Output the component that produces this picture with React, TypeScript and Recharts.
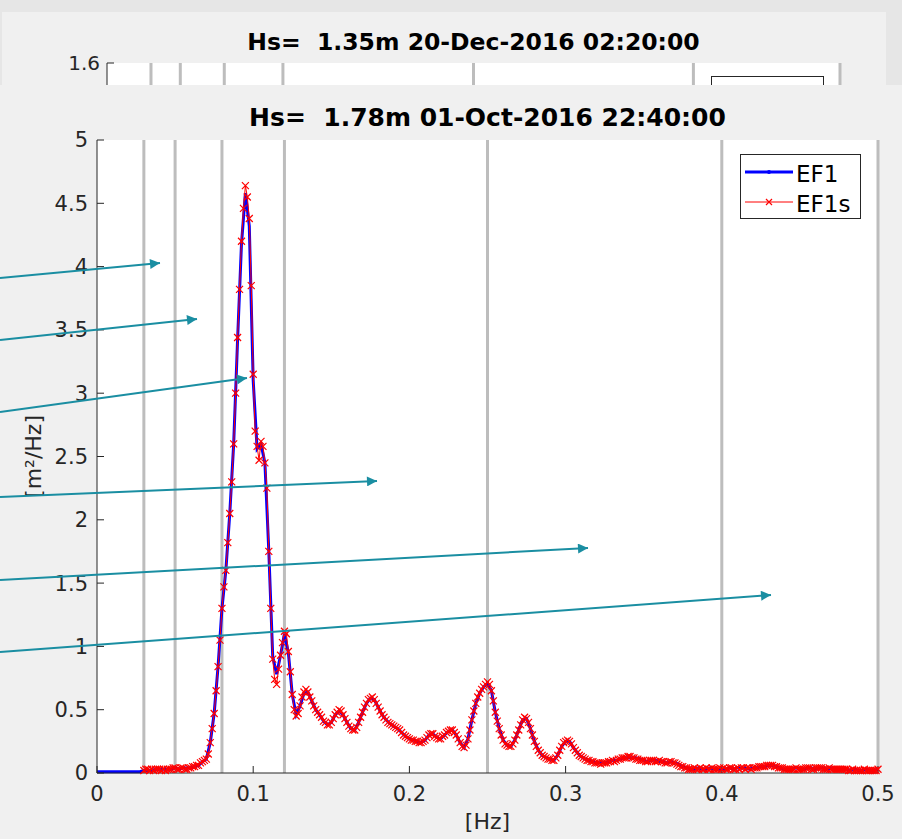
import React from "react";
import {
  LineChart,
  Line,
  XAxis,
  YAxis,
  ReferenceLine,
  CartesianGrid,
  Legend,
} from "recharts";

// spectral bin widths [Hz]: EF1 is stored on a grid twice as coarse as EF1s
const EF1_STEP = 0.0025;
const EF1S_STEP = 0.00125;

// EF1 energy density [m²/Hz], 0 to 0.5 Hz
const EF1: number[] = [
  0.01, 0.01, 0.01, 0.01, 0.01, 0.01, 0.01, 0.01, 0.01, 0.01,
  0.01, 0.01, 0.02, 0.02, 0.02, 0.03, 0.03, 0.03, 0.03, 0.03,
  0.04, 0.03, 0.04, 0.04, 0.04, 0.05, 0.06, 0.09, 0.11, 0.24,
  0.47, 0.84, 1.3, 1.6, 2.05, 2.6, 3.42, 4.18, 4.58, 4.32,
  3.1, 2.56, 2.6, 2.45, 1.75, 0.92, 0.78, 0.93, 1.1, 0.95,
  0.62, 0.46, 0.53, 0.63, 0.64, 0.57, 0.5, 0.46, 0.41, 0.38,
  0.4, 0.46, 0.49, 0.46, 0.4, 0.35, 0.34, 0.4, 0.48, 0.55,
  0.59, 0.58, 0.52, 0.46, 0.42, 0.39, 0.37, 0.35, 0.32, 0.29,
  0.27, 0.26, 0.25, 0.24, 0.26, 0.3, 0.31, 0.28, 0.27, 0.3,
  0.33, 0.34, 0.3, 0.24, 0.2, 0.27, 0.42, 0.55, 0.63, 0.68,
  0.71, 0.65, 0.48, 0.35, 0.26, 0.22, 0.21, 0.26, 0.34, 0.42,
  0.43, 0.35, 0.25, 0.18, 0.14, 0.12, 0.11, 0.1, 0.14, 0.21,
  0.25, 0.25, 0.2, 0.16, 0.13, 0.11, 0.1, 0.09, 0.08, 0.08,
  0.08, 0.09, 0.1, 0.1, 0.11, 0.12, 0.12, 0.12, 0.12, 0.11,
  0.1, 0.09, 0.1, 0.1, 0.09, 0.09, 0.08, 0.09, 0.08, 0.07,
  0.05, 0.04, 0.03, 0.03, 0.04, 0.03, 0.03, 0.04, 0.03, 0.03,
  0.03, 0.03, 0.04, 0.03, 0.04, 0.04, 0.04, 0.03, 0.04, 0.04,
  0.05, 0.05, 0.06, 0.06, 0.05, 0.04, 0.03, 0.03, 0.03, 0.04,
  0.03, 0.03, 0.04, 0.04, 0.03, 0.04, 0.04, 0.03, 0.04, 0.03,
  0.03, 0.03, 0.03, 0.02, 0.03, 0.02, 0.02, 0.03, 0.02, 0.02,
  0.03,
];

// EF1s smoothed estimate [m²/Hz], 0 to 0.5 Hz, only defined from 0.03 Hz
const EF1S: (number | null)[] = [
  null, null, null, null, null, null, null, null, null, null,
  null, null, null, null, null, null, null, null, null, null,
  null, null, null, null, 0.02, 0.03, 0.03, 0.02, 0.03, 0.02,
  0.03, 0.03, 0.03, 0.02, 0.03, 0.02, 0.03, 0.03, 0.03, 0.04,
  0.04, 0.03, 0.03, 0.04, 0.04, 0.03, 0.03, 0.04, 0.04, 0.05,
  0.05, 0.06, 0.06, 0.08, 0.09, 0.1, 0.11, 0.15, 0.24, 0.35,
  0.47, 0.65, 0.84, 1.05, 1.3, 1.47, 1.6, 1.82, 2.05, 2.3,
  2.6, 3.0, 3.44, 3.82, 4.2, 4.46, 4.64, 4.55, 4.38, 3.85,
  3.15, 2.7, 2.58, 2.47, 2.62, 2.58, 2.45, 2.25, 1.75, 1.3,
  0.9, 0.74, 0.7, 0.82, 0.93, 1.03, 1.12, 1.1, 0.96, 0.8,
  0.62, 0.5, 0.45, 0.47, 0.53, 0.6, 0.64, 0.66, 0.64, 0.6,
  0.57, 0.53, 0.5, 0.48, 0.46, 0.44, 0.41, 0.4, 0.38, 0.38,
  0.4, 0.43, 0.46, 0.48, 0.5, 0.49, 0.46, 0.43, 0.4, 0.37,
  0.35, 0.34, 0.34, 0.36, 0.4, 0.44, 0.48, 0.52, 0.55, 0.58,
  0.59, 0.6, 0.58, 0.55, 0.52, 0.49, 0.46, 0.44, 0.42, 0.4,
  0.39, 0.38, 0.37, 0.36, 0.35, 0.34, 0.32, 0.3, 0.29, 0.28,
  0.27, 0.26, 0.26, 0.25, 0.25, 0.24, 0.24, 0.25, 0.26, 0.28,
  0.3, 0.31, 0.31, 0.29, 0.28, 0.27, 0.27, 0.29, 0.3, 0.32,
  0.33, 0.34, 0.34, 0.32, 0.3, 0.27, 0.24, 0.21, 0.2, 0.22,
  0.27, 0.34, 0.42, 0.49, 0.55, 0.6, 0.63, 0.66, 0.68, 0.7,
  0.72, 0.7, 0.65, 0.57, 0.48, 0.41, 0.35, 0.3, 0.26, 0.23,
  0.22, 0.21, 0.21, 0.23, 0.26, 0.3, 0.34, 0.38, 0.42, 0.44,
  0.43, 0.4, 0.35, 0.3, 0.25, 0.21, 0.18, 0.16, 0.14, 0.13,
  0.12, 0.11, 0.11, 0.1, 0.1, 0.12, 0.14, 0.18, 0.21, 0.24,
  0.25, 0.26, 0.25, 0.23, 0.2, 0.18, 0.16, 0.14, 0.13, 0.12,
  0.11, 0.1, 0.1, 0.09, 0.09, 0.08, 0.08, 0.08, 0.07, 0.08,
  0.08, 0.08, 0.09, 0.09, 0.1, 0.09, 0.1, 0.11, 0.11, 0.12,
  0.12, 0.12, 0.13, 0.13, 0.12, 0.12, 0.11, 0.11, 0.1, 0.1,
  0.1, 0.09, 0.09, 0.1, 0.1, 0.1, 0.09, 0.09, 0.1, 0.09,
  0.09, 0.08, 0.08, 0.09, 0.09, 0.08, 0.08, 0.07, 0.06, 0.05,
  0.05, 0.04, 0.04, 0.03, 0.03, 0.03, 0.04, 0.03, 0.03, 0.04,
  0.03, 0.03, 0.04, 0.03, 0.03, 0.04, 0.03, 0.03, 0.03, 0.04,
  0.03, 0.04, 0.03, 0.03, 0.04, 0.04, 0.03, 0.03, 0.04, 0.03,
  0.04, 0.04, 0.03, 0.04, 0.04, 0.03, 0.04, 0.04, 0.04, 0.05,
  0.05, 0.05, 0.05, 0.06, 0.06, 0.06, 0.06, 0.05, 0.05, 0.04,
  0.04, 0.04, 0.03, 0.03, 0.03, 0.03, 0.03, 0.03, 0.04, 0.03,
  0.03, 0.03, 0.03, 0.04, 0.04, 0.04, 0.03, 0.03, 0.04, 0.04,
  0.04, 0.04, 0.03, 0.03, 0.03, 0.04, 0.03, 0.03, 0.03, 0.03,
  0.03, 0.03, 0.03, 0.03, 0.03, 0.02, 0.02, 0.03, 0.02, 0.02,
  0.02, 0.02, 0.02, 0.03, 0.02, 0.02, 0.02, 0.02, 0.02, 0.02,
  0.03,
];

const X_TICKS = [0, 0.1, 0.2, 0.3, 0.4, 0.5];
const Y_TICKS = [0, 0.5, 1, 1.5, 2, 2.5, 3, 3.5, 4, 4.5, 5];
const BACK_Y_TICKS = [1.6];
// frequency band limits [Hz]
const BAND_EDGES = [0.03, 0.05, 0.08, 0.12, 0.25, 0.4, 0.5];

const TITLE_MAIN = "Hs=  1.78m 01-Oct-2016 22:40:00";
const TITLE_BACK = "Hs=  1.35m 20-Dec-2016 02:20:00";

// callout arrows over the front figure, in panel pixels
const CALLOUTS = [
  { x1: 0, y1: 193, x2: 160, y2: 178 },
  { x1: 0, y1: 255, x2: 197, y2: 234 },
  { x1: 0, y1: 327, x2: 247, y2: 293 },
  { x1: 0, y1: 412, x2: 377, y2: 396 },
  { x1: 0, y1: 495, x2: 588, y2: 463 },
  { x1: 0, y1: 567, x2: 771, y2: 510 },
];

// one row per fine bin; EF1 only fills every second one
const RATIO = EF1_STEP / EF1S_STEP;
const ROWS = EF1S.map((v, i) => ({
  f: Number((i * EF1S_STEP).toFixed(5)),
  ef1: i % RATIO === 0 ? EF1[i / RATIO] : null,
  ef1s: v,
}));

const FONT = '"DejaVu Sans", sans-serif';
const AXIS = "#262626";
const BAND = "#bdbdbd";
const TEAL = "#1a8ea2";
const noLabel = () => "";

function Cross(props: any) {
  const { cx, cy, index } = props;
  if (cx == null || cy == null || Number.isNaN(cy)) return <g key={`c-${index}`} />;
  const s = 3.5;
  return (
    <path
      key={`c-${index}`}
      d={`M${cx - s},${cy - s}L${cx + s},${cy + s}M${cx - s},${cy + s}L${cx + s},${cy - s}`}
      stroke="#ff0000"
      strokeWidth={1.2}
      fill="none"
    />
  );
}

function SpectrumLegend() {
  return (
    <div
      style={{
        width: 121,
        height: 65,
        boxSizing: "border-box",
        border: `1px solid ${AXIS}`,
        background: "#ffffff",
      }}
    >
      <svg width={119} height={63} style={{ display: "block" }}>
        <line x1={4} y1={17} x2={52} y2={17} stroke="#0000ff" strokeWidth={3} />
        <circle cx={28} cy={17} r={2} fill="#0000ff" />
        <text x={55} y={27} fontSize={23} fontFamily={FONT} fill="#000">
          EF1
        </text>
        <line x1={4} y1={47} x2={52} y2={47} stroke="#ff0000" strokeWidth={1} />
        <path d="M25,44L31,50M25,50L31,44" stroke="#ff0000" strokeWidth={1.2} />
        <text x={55} y={57} fontSize={23} fontFamily={FONT} fill="#000">
          EF1s
        </text>
      </svg>
    </div>
  );
}

function BackFigure() {
  return (
    <div style={{ position: "relative", width: 884, height: 73, overflow: "hidden" }}>
      <div
        style={{
          position: "absolute",
          left: 105,
          width: 733,
          top: 18,
          textAlign: "center",
          fontFamily: FONT,
          fontWeight: "bold",
          fontSize: 23.5,
          lineHeight: "24px",
          whiteSpace: "pre",
          color: "#000",
        }}
      >
        {TITLE_BACK}
      </div>
      <div style={{ position: "absolute", left: 0, top: 0 }}>
        <LineChart
          width={884}
          height={400}
          data={ROWS}
          margin={{ top: 51, right: 46, bottom: 0, left: 45 }}
        >
          <CartesianGrid horizontal={false} vertical={false} fill="#ffffff" />
          {BAND_EDGES.map((x) => (
            <ReferenceLine key={x} x={x} stroke={BAND} strokeWidth={3} ifOverflow="visible" />
          ))}
          <XAxis
            dataKey="f"
            type="number"
            orientation="top"
            domain={[0, 0.5]}
            allowDataOverflow
            ticks={X_TICKS}
            height={0}
            tickSize={-7}
            tickFormatter={noLabel}
            stroke={AXIS}
          />
          <YAxis
            type="number"
            domain={[0, 1.6]}
            allowDataOverflow
            ticks={BACK_Y_TICKS}
            width={60}
            tickSize={-7}
            tickMargin={14}
            stroke={AXIS}
            tick={{ fill: AXIS, fontSize: 20, fontFamily: FONT }}
          />
          {/* hidden series so the axes get their scales */}
          <Line
            dataKey="ef1"
            stroke="none"
            dot={false}
            activeDot={false}
            legendType="none"
            isAnimationActive={false}
          />
        </LineChart>
      </div>
      <div
        style={{
          position: "absolute",
          left: 709,
          top: 64,
          width: 113,
          height: 60,
          boxSizing: "border-box",
          border: `1px solid ${AXIS}`,
          background: "#ffffff",
        }}
      >
        <svg width={111} height={58} style={{ display: "block" }}>
          <line x1={4} y1={16} x2={49} y2={16} stroke="#0000ff" strokeWidth={3} />
          <text x={52} y={25} fontSize={21} fontFamily={FONT} fill="#000">
            EF1
          </text>
        </svg>
      </div>
    </div>
  );
}

function Callouts() {
  return (
    <svg
      width={902}
      height={754}
      style={{ position: "absolute", left: 0, top: 0, pointerEvents: "none" }}
    >
      <defs>
        <marker
          id="head"
          viewBox="0 0 10 10"
          refX={10}
          refY={5}
          markerWidth={7}
          markerHeight={5}
          orient="auto"
          markerUnits="strokeWidth"
        >
          <path d="M0,0L10,5L0,10z" fill={TEAL} />
        </marker>
      </defs>
      {CALLOUTS.map((a, i) => (
        <line
          key={i}
          x1={a.x1}
          y1={a.y1}
          x2={a.x2}
          y2={a.y2}
          stroke={TEAL}
          strokeWidth={2}
          markerEnd="url(#head)"
        />
      ))}
    </svg>
  );
}

function FrontFigure() {
  return (
    <div style={{ position: "relative", width: 902, height: 754 }}>
      <div
        style={{
          position: "absolute",
          left: 97,
          width: 781,
          top: 20,
          textAlign: "center",
          fontFamily: FONT,
          fontWeight: "bold",
          fontSize: 25,
          lineHeight: "25px",
          whiteSpace: "pre",
          color: "#000",
        }}
      >
        {TITLE_MAIN}
      </div>
      <div style={{ position: "absolute", left: 0, top: 0 }}>
        <LineChart
          width={902}
          height={754}
          data={ROWS}
          margin={{ top: 55, right: 24, bottom: 36, left: 37 }}
        >
          <CartesianGrid horizontal={false} vertical={false} fill="#ffffff" />
          {BAND_EDGES.map((x) => (
            <ReferenceLine key={x} x={x} stroke={BAND} strokeWidth={3} />
          ))}
          <XAxis
            dataKey="f"
            type="number"
            domain={[0, 0.5]}
            ticks={X_TICKS}
            height={30}
            tickSize={-7}
            tickMargin={20}
            stroke={AXIS}
            tick={{ fill: AXIS, fontSize: 21, fontFamily: FONT }}
            label={{
              value: "[Hz]",
              position: "bottom",
              offset: 10,
              fill: AXIS,
              fontSize: 22,
              fontFamily: FONT,
            }}
          />
          <XAxis
            xAxisId="top"
            dataKey="f"
            type="number"
            orientation="top"
            domain={[0, 0.5]}
            ticks={X_TICKS}
            height={0}
            tickSize={-7}
            tickFormatter={noLabel}
            stroke={AXIS}
          />
          <YAxis
            type="number"
            domain={[0, 5]}
            ticks={Y_TICKS}
            width={60}
            tickSize={-7}
            tickMargin={16}
            stroke={AXIS}
            tick={{ fill: AXIS, fontSize: 21, fontFamily: FONT }}
            label={{
              value: "[m²/Hz]",
              angle: -90,
              position: "insideLeft",
              offset: -4,
              fill: AXIS,
              fontSize: 22,
              fontFamily: FONT,
              style: { textAnchor: "middle" },
            }}
          />
          <YAxis
            yAxisId="right"
            type="number"
            orientation="right"
            domain={[0, 5]}
            ticks={Y_TICKS}
            width={0}
            tickSize={-7}
            tickFormatter={noLabel}
            axisLine={false}
            stroke={AXIS}
          />
          <Line
            dataKey="ef1"
            stroke="#0000ff"
            strokeWidth={3}
            dot={false}
            connectNulls
            isAnimationActive={false}
          />
          <Line
            dataKey="ef1s"
            stroke="#ff0000"
            strokeWidth={1}
            dot={Cross}
            isAnimationActive={false}
          />
          <Legend
            layout="vertical"
            align="center"
            verticalAlign="middle"
            content={<SpectrumLegend />}
            wrapperStyle={{ left: 740, top: 69, width: 121, height: 65 }}
          />
        </LineChart>
      </div>
      <Callouts />
    </div>
  );
}

export default function App() {
  return (
    <div
      style={{
        position: "fixed",
        left: 0,
        top: 0,
        width: 902,
        height: 839,
        background: "#e6e6e6",
        overflow: "hidden",
      }}
    >
      <div
        style={{
          position: "absolute",
          left: 2,
          top: 12,
          width: 884,
          height: 73,
          background: "#f0f0f0",
          overflow: "hidden",
        }}
      >
        <BackFigure />
      </div>
      <div
        style={{
          position: "absolute",
          left: 0,
          top: 85,
          width: 902,
          height: 754,
          background: "#f0f0f0",
        }}
      >
        <FrontFigure />
      </div>
    </div>
  );
}
